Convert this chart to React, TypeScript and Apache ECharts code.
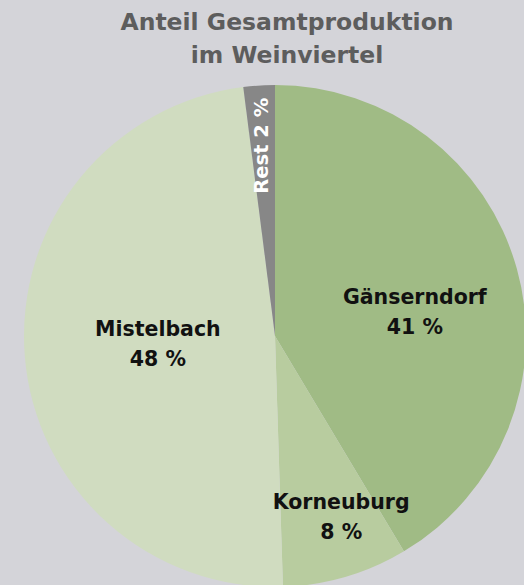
import React, { useEffect, useRef } from "react";
import * as echarts from "echarts";

const titleLines = ["Anteil Gesamtproduktion", "im Weinviertel"];
const categories = ["Gänserndorf", "Korneuburg", "Mistelbach", "Rest"];
const shares = [41, 8, 48, 2];
const colors = ["#a0bb85", "#b8cc9f", "#d0dcc0", "#878787"];

export default function App() {
  const ref = useRef<HTMLDivElement>(null);
  useEffect(() => {
    if (!ref.current) return;
    const chart = echarts.init(ref.current, null, { renderer: "svg" });
    const labelBase = {
      show: true,
      position: "inside",
      fontFamily: "DejaVu Sans",
      fontWeight: "bold",
      fontSize: 20.5,
      color: "#111",
      lineHeight: 30,
      formatter: (p: any) => `${p.name}\n${p.value} %`,
    };
    const offsets: Record<string, number[]> = {
      Gänserndorf: [16, 10],
      Korneuburg: [30, 58],
      Mistelbach: [11, -2],
      Rest: [62, -5],
    };
    chart.setOption({
      animation: false,
      backgroundColor: "#d4d4d9",
      title: {
        text: titleLines.join("\n"),
        left: 282,
        top: 0,
        textAlign: "center",
        textStyle: {
          fontFamily: "DejaVu Sans",
          fontWeight: "bold",
          fontSize: 23.5,
          lineHeight: 33,
          color: "#5d5d5d",
        },
      },
      series: [
        {
          type: "pie",
          center: [275, 336],
          radius: 251,
          startAngle: 90,
          clockwise: true,
          silent: true,
          labelLine: { show: false },
          itemStyle: { borderWidth: 0 },
          data: categories.map((c, i) => ({
            name: c,
            value: shares[i],
            itemStyle: { color: colors[i] },
            label:
              c === "Rest"
                ? {
                    ...labelBase,
                    color: "#ffffff",
                    fontSize: 19.5,
                    rotate: 90,
                    formatter: (p: any) => `${p.name} ${p.value} %`,
                    offset: offsets[c],
                  }
                : { ...labelBase, offset: offsets[c] },
          })),
        },
      ],
    });
    return () => chart.dispose();
  }, []);
  return (
    <div
      ref={ref}
      style={{ position: "absolute", left: 0, top: 0, width: 524, height: 585 }}
    />
  );
}
